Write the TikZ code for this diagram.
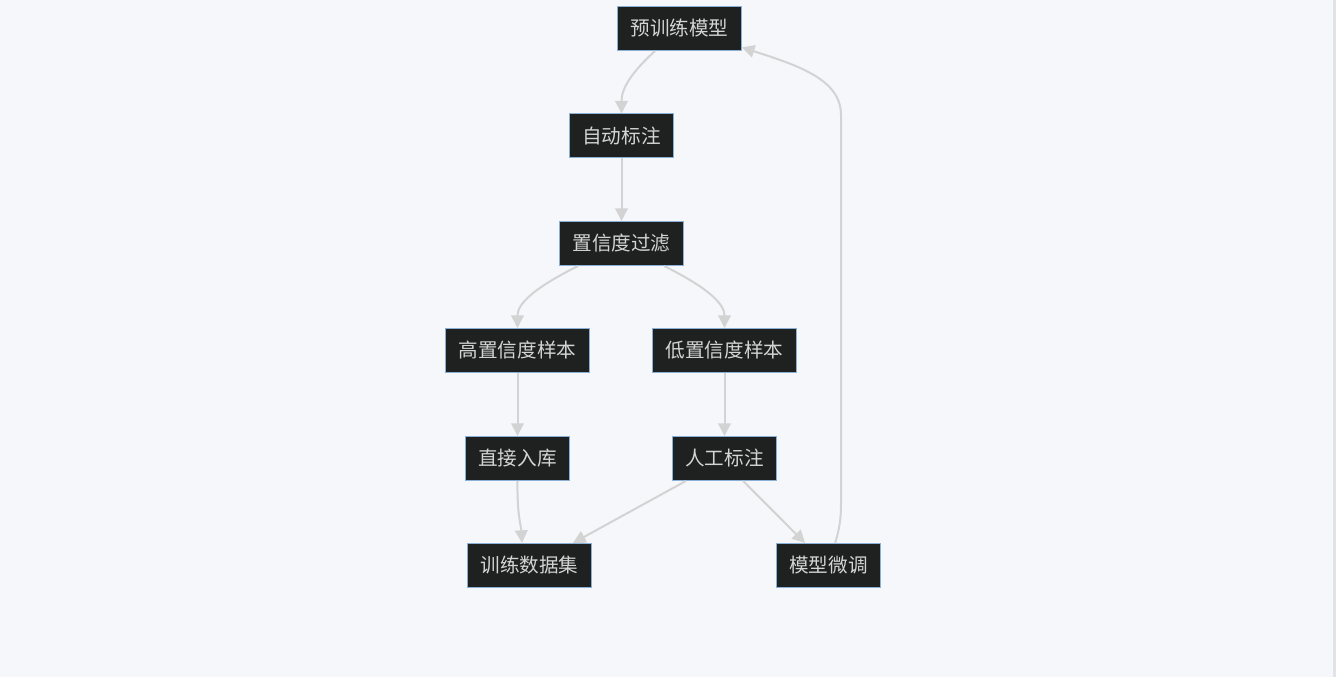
\documentclass[tikz,border=0pt]{standalone}
\usepackage{fontspec}
\newfontfamily\cjk{Noto Sans CJK SC}
\usetikzlibrary{arrows.meta}
\definecolor{bgc}{HTML}{F5F7FA}
\definecolor{nodefill}{HTML}{1F2020}
\definecolor{nodeborder}{HTML}{8AB0D8}
\definecolor{nodetext}{HTML}{D4D4D4}
\definecolor{edgec}{HTML}{D3D3D3}
\definecolor{sideline}{HTML}{E2E2EA}
\tikzset{
  box/.style={draw=nodeborder, fill=nodefill, line width=0.75pt, text=nodetext,
    font=\cjk\fontsize{14.7pt}{16pt}\selectfont, inner xsep=9.6pt, inner ysep=0pt,
    minimum height=33pt, anchor=center},
  edge/.style={draw=edgec, line width=1.5pt, -{Triangle[length=9.5pt,width=9.5pt]}}
}
\begin{document}
\begin{tikzpicture}[x=0.75pt,y=-0.75pt]
\fill[bgc] (0,0) rectangle (1336,677);
\useasboundingbox (0,0) rectangle (1336,677);
\fill[sideline] (1333,0) rectangle (1336,677);

\node[box] (pre) at (679.5,28.5) {预训练模型};
\node[box] (auto) at (621.5,136) {自动标注};
\node[box] (filt) at (621.5,243.5) {置信度过滤};
\node[box] (high) at (517.5,350.5) {高置信度样本};
\node[box] (low) at (724.5,350.5) {低置信度样本};
\node[box] (direct) at (517.5,458.5) {直接入库};
\node[box] (manual) at (724.5,458.5) {人工标注};
\node[box] (train) at (529.5,565.5) {训练数据集};
\node[box] (tune) at (828.5,565.5) {模型微调};

\draw[edge] ([xshift=-18.4pt]pre.south) .. controls (632,72) and (621.5,88) .. (auto.north);
\draw[edge] (auto.south) -- (filt.north);
\draw[edge] ([xshift=-32.6pt]filt.south) .. controls (530,290) and (517.5,305) .. (high.north);
\draw[edge] ([xshift=32pt]filt.south) .. controls (712,290) and (724.5,305) .. (low.north);
\draw[edge] (high.south) -- (direct.north);
\draw[edge] (low.south) -- (manual.north);
\draw[edge] (direct.south) .. controls (517,515) and (521,525) .. ([xshift=-5.6pt]train.north);
\draw[edge] ([xshift=-29pt]manual.south) -- ([xshift=32.6pt]train.north);
\draw[edge] ([xshift=14pt]manual.south) -- ([xshift=-17.6pt]tune.north);
\draw[edge] ([xshift=5pt]tune.north) .. controls (839,530) and (841,520) .. (841,505)
  -- (841,115) .. controls (841,80) and (800,66) .. ([yshift=-14.2pt]pre.east);
\end{tikzpicture}
\end{document}
